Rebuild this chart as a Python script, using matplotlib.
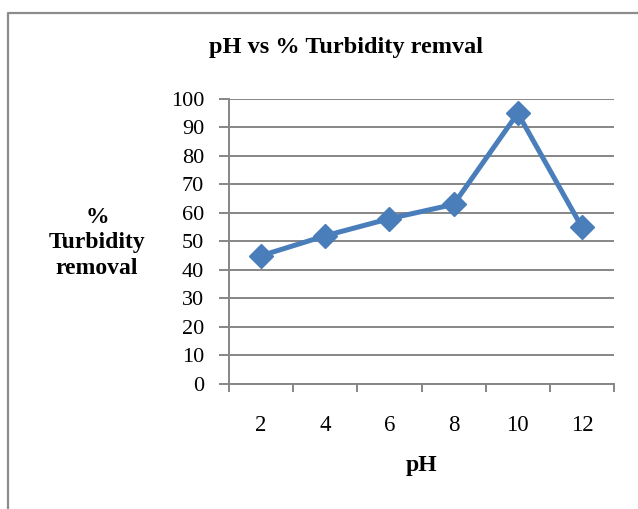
import matplotlib
matplotlib.use("Agg")
import matplotlib.pyplot as plt
from matplotlib.lines import Line2D

# data
ph_labels = ['2', '4', '6', '8', '10', '12']
turbidity_removal = [45, 52, 58, 63, 95, 55]
y_ticks = [0, 10, 20, 30, 40, 50, 60, 70, 80, 90, 100]

plt.rcParams['font.family'] = ['Liberation Serif', 'DejaVu Serif']

fig = plt.figure(figsize=(6.38, 5.09), dpi=100)
ax = fig.add_axes([0.359, 0.2456, 0.6034, 0.56])

x = list(range(len(ph_labels)))
ax.plot(x, turbidity_removal, color='#4a7ebb', linewidth=3.6,
        marker='D', markersize=12, markerfacecolor='#4a7ebb',
        markeredgecolor='#4a7ebb', zorder=3)

grid_col = '#868686'
ax.set_ylim(0, 100)
ax.set_yticks(y_ticks)
ax.set_yticklabels([str(v) for v in y_ticks])
ax.yaxis.grid(True, color=grid_col, linewidth=1.4)
ax.set_axisbelow(True)

ax.set_xlim(-0.5, len(ph_labels) - 0.5)
# labels centred on the categories, ticks on the boundaries
ax.set_xticks(x)
ax.set_xticklabels(ph_labels)
ax.set_xticks([i - 0.5 for i in range(len(ph_labels) + 1)], minor=True)
ax.tick_params(axis='x', which='major', length=0, pad=22, labelsize=16.5)
ax.tick_params(axis='x', which='minor', length=6, width=1.4, color=grid_col, direction='out')
ax.tick_params(axis='y', which='major', length=7, width=1.4, color=grid_col, pad=11, labelsize=16)

for s in ['top', 'right']:
    ax.spines[s].set_visible(False)
for s in ['left', 'bottom']:
    ax.spines[s].set_color(grid_col)
    ax.spines[s].set_linewidth(1.4)

fig.text(0.542, 0.907, 'pH vs % Turbidity remval', ha='center', va='center',
         fontsize=17.5, fontweight='bold')
fig.text(0.66, 0.0845, 'pH', ha='center', va='center', fontsize=17, fontweight='bold')
fig.text(0.152, 0.5226, '%\nTurbidity\nremoval', ha='center', va='center',
         fontsize=17, fontweight='bold', linespacing=1.3)

# chart border (left and top edges visible)
fig.add_artist(Line2D([0.0125, 0.0125, 1.0], [0.0, 0.9745, 0.9745],
                      transform=fig.transFigure, color='#8c8c8c', linewidth=1.6))

fig.savefig('out.png', dpi=100)
